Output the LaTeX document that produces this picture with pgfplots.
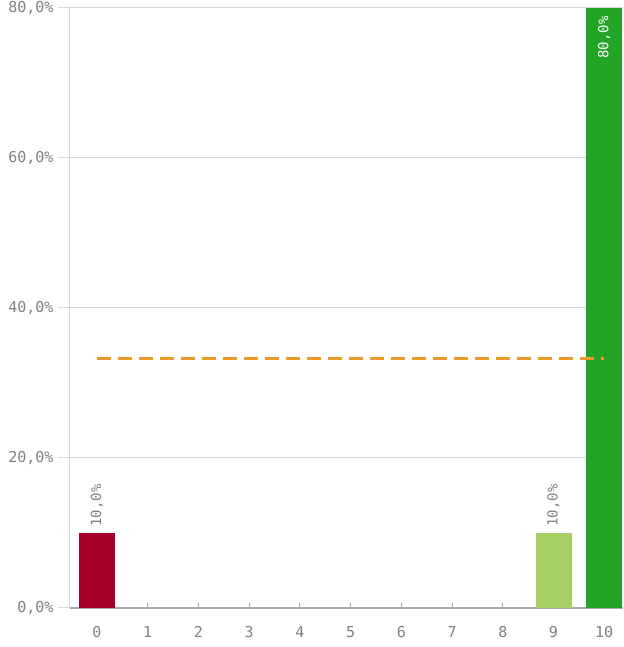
\documentclass[border=0pt]{standalone}
\usepackage{fontspec}
\setmainfont{DejaVu Sans Mono}
\usepackage{pgfplots}
\pgfplotsset{compat=1.18}
\definecolor{cred}{HTML}{A5002A}
\definecolor{clgreen}{HTML}{A6D064}
\definecolor{cgreen}{HTML}{22A527}
\definecolor{corange}{HTML}{E89B2A}
\definecolor{ctext}{HTML}{808080}
\definecolor{cgrid}{HTML}{D6D6D6}
\definecolor{caxis}{HTML}{A8A8A8}
\begin{document}
\begin{tikzpicture}
\useasboundingbox (-70pt,-39pt) rectangle (553pt,608pt);
\begin{axis}[
  at={(0,0)}, anchor=south west,
  scale only axis, width=553pt, height=600pt,
  xmin=-0.53, xmax=10.37, ymin=0, ymax=80,
  xtick={0,...,10},
  ytick={0,20,40,60,80},
  /pgf/number format/assume math mode=true,
  yticklabel={\pgfmathprintnumber[fixed,fixed zerofill,precision=1,use comma]{\tick}\%},
  xticklabel={\pgfmathprintnumber[fixed,precision=0]{\tick}},
  ticklabel style={font=\fontsize{15}{17}\selectfont, text=ctext},
  ymajorgrids, grid style={cgrid, line width=1pt},
  axis x line*=bottom, axis y line*=left,
  x axis line style={caxis, line width=1.5pt, -},
  y axis line style={cgrid, line width=1pt, -},
  major tick length=12pt,
  ytick style={cgrid, line width=1pt},
  xtick style={caxis, line width=1pt, /pgfplots/major tick length=5pt},
  xtick align=inside, ytick align=outside,
  xticklabel style={yshift=-15pt},
  yticklabel style={xshift=-1pt},
  clip=false,
]
\addplot[ybar, bar width=36pt, bar shift=0pt, fill=cred, draw=none,
  nodes near coords={\pgfmathprintnumber[fixed,fixed zerofill,precision=1,use comma]{\pgfplotspointmeta}\%},
  nodes near coords style={rotate=90, anchor=west, font=\fontsize{14}{16}\selectfont, text=ctext, xshift=3pt}]
  coordinates {(0,10)};
\addplot[ybar, bar width=36pt, bar shift=0pt, fill=clgreen, draw=none,
  nodes near coords={\pgfmathprintnumber[fixed,fixed zerofill,precision=1,use comma]{\pgfplotspointmeta}\%},
  nodes near coords style={rotate=90, anchor=west, font=\fontsize{14}{16}\selectfont, text=ctext, xshift=3pt}]
  coordinates {(9,10)};
\addplot[ybar, bar width=36pt, bar shift=0pt, fill=cgreen, draw=none,
  nodes near coords={\pgfmathprintnumber[fixed,fixed zerofill,precision=1,use comma]{\pgfplotspointmeta}\%},
  nodes near coords style={rotate=90, anchor=east, font=\fontsize{14}{16}\selectfont, text=white, xshift=-5pt}]
  coordinates {(10,80)};
\addplot[corange, line width=3pt, dash pattern=on 14pt off 7pt, mark=none]
  coordinates {(0,33.33) (10,33.33)};
\end{axis}
\end{tikzpicture}
\end{document}
